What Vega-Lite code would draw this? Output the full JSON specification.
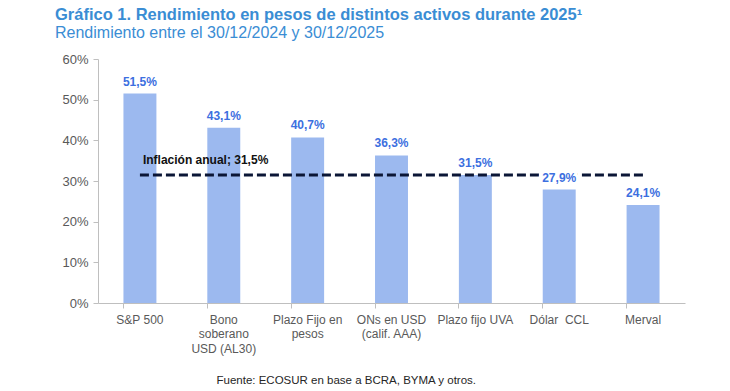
{
  "$schema": "https://vega.github.io/schema/vega-lite/v6.json",
  "width": 587,
  "height": 244,
  "autosize": {"type": "none"},
  "padding": {"left": 98, "top": 59, "right": 45, "bottom": 88},
  "background": "white",
  "title": {
    "text": "Gráfico 1. Rendimiento en pesos de distintos activos durante 2025¹",
    "subtitle": "Rendimiento entre el 30/12/2024 y 30/12/2025",
    "anchor": "start",
    "frame": "group",
    "dx": -43,
    "offset": 12,
    "font": "Liberation Sans",
    "fontSize": 16.5,
    "fontWeight": "bold",
    "color": "#3a8dd4",
    "subtitleFont": "Liberation Sans",
    "subtitleFontSize": 16,
    "subtitleColor": "#3a8dd4",
    "subtitlePadding": 2
  },
  "config": {
    "locale": {"number": {"decimal": ",", "thousands": ".", "grouping": [3], "currency": ["$", ""]}},
    "view": {"stroke": null},
    "font": "Liberation Sans"
  },
  "data": {
    "values": [
      {"activo": "S&P 500", "rendimiento": 0.515},
      {"activo": "Bono soberano USD (AL30)", "rendimiento": 0.431},
      {"activo": "Plazo Fijo en pesos", "rendimiento": 0.407},
      {"activo": "ONs en USD (calif. AAA)", "rendimiento": 0.363},
      {"activo": "Plazo fijo UVA", "rendimiento": 0.315},
      {"activo": "Dólar\u00a0 CCL", "rendimiento": 0.279},
      {"activo": "Merval", "rendimiento": 0.241}
    ]
  },
  "encoding": {
    "x": {
      "field": "activo",
      "type": "nominal",
      "sort": null,
      "scale": {"paddingInner": 0.607, "paddingOuter": 0.3035},
      "axis": {
        "title": "Fuente: ECOSUR en base a BCRA, BYMA y otros.",
        "titleX": 118,
        "titleY": 77,
        "titleAlign": "left",
        "titleAnchor": null,
        "titleBaseline": "middle",
        "titleFontWeight": "normal",
        "titleFontSize": 11.5,
        "titleColor": "#262626",
        "labelAngle": 0,
        "labelFontSize": 12,
        "labelColor": "#595959",
        "labelPadding": 11,
        "labelLineHeight": 14.5,
        "labelBaseline": "middle",
        "labelExpr": "datum.value == 'Bono soberano USD (AL30)' ? ['Bono', 'soberano', 'USD (AL30)'] : datum.value == 'Plazo Fijo en pesos' ? ['Plazo Fijo en', 'pesos'] : datum.value == 'ONs en USD (calif. AAA)' ? ['ONs en USD', '(calif. AAA)'] : datum.value",
        "bandPosition": 0,
        "domainColor": "#bfbfbf",
        "tickColor": "#bfbfbf",
        "tickSize": 5,
        "labelOverlap": false
      }
    }
  },
  "layer": [
    {
      "mark": {"type": "bar", "color": "#9cb9ef"},
      "encoding": {
        "y": {
          "field": "rendimiento",
          "type": "quantitative",
          "scale": {"domain": [0, 0.6]},
          "axis": {
            "title": null,
            "format": ".0%",
            "values": [0, 0.1, 0.2, 0.3, 0.4, 0.5, 0.6],
            "grid": false,
            "labelFontSize": 13,
            "labelColor": "#595959",
            "labelPadding": 5,
            "domainColor": "#bfbfbf",
            "tickColor": "#bfbfbf",
            "tickSize": 5
          }
        }
      }
    },
    {
      "data": {"values": [{"desde": "S&P 500", "hasta": "Merval", "inflacion": 0.315, "etiqueta": "Inflación anual; 31,5%"}]},
      "layer": [
        {
          "mark": {"type": "rule", "strokeDash": [9, 4], "strokeWidth": 3, "color": "#0b1636"},
          "encoding": {
            "x": {"field": "desde", "type": "nominal"},
            "x2": {"field": "hasta"},
            "y": {"field": "inflacion", "type": "quantitative"}
          }
        },
        {
          "mark": {"type": "text", "align": "left", "baseline": "middle", "dx": 3, "dy": -15, "fontSize": 12, "fontWeight": "bold", "color": "#111111"},
          "encoding": {
            "x": {"field": "desde", "type": "nominal"},
            "y": {"field": "inflacion", "type": "quantitative"},
            "text": {"field": "etiqueta"}
          }
        }
      ]
    },
    {
      "mark": {"type": "text", "baseline": "bottom", "dy": -5, "fontSize": 12, "fontWeight": "bold", "color": "white", "stroke": "white", "strokeWidth": 7},
      "encoding": {
        "y": {"field": "rendimiento", "type": "quantitative"},
        "text": {"field": "rendimiento", "type": "quantitative", "format": ".1%"}
      }
    },
    {
      "mark": {"type": "text", "baseline": "bottom", "dy": -5, "fontSize": 12, "fontWeight": "bold", "color": "#3c6fe0"},
      "encoding": {
        "y": {"field": "rendimiento", "type": "quantitative"},
        "text": {"field": "rendimiento", "type": "quantitative", "format": ".1%"}
      }
    }
  ]
}
